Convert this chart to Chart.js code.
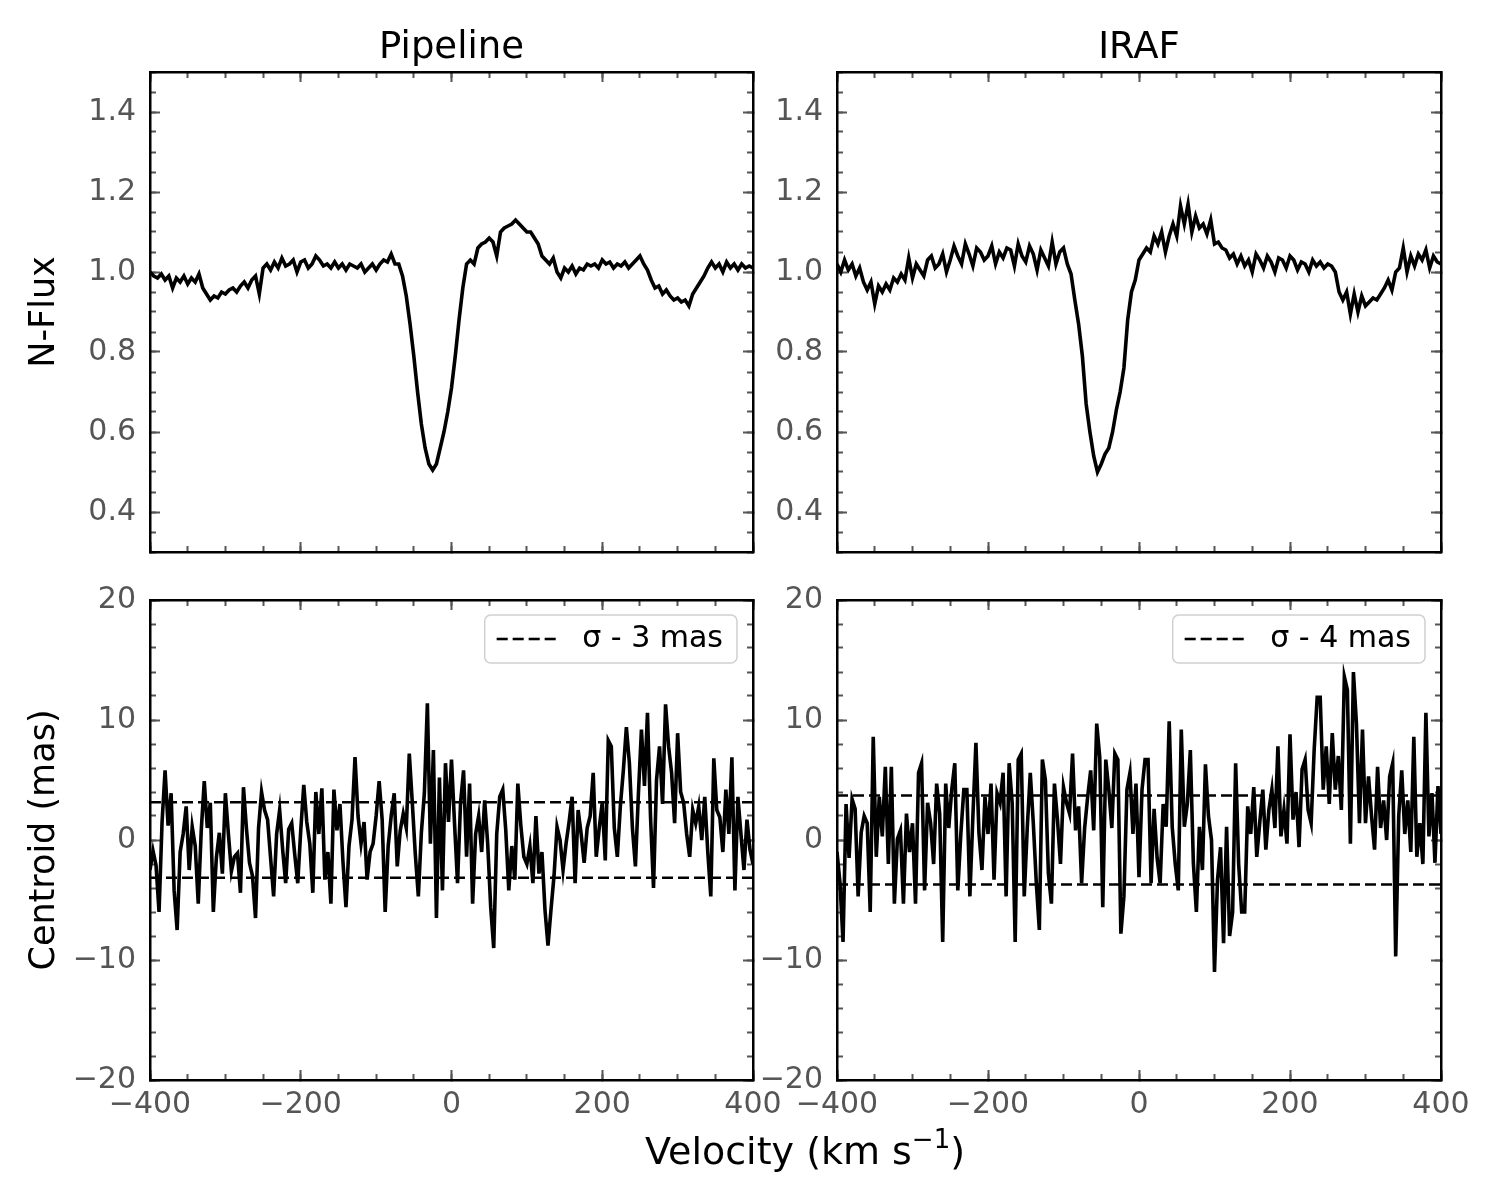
<!DOCTYPE html>
<html>
<head>
<meta charset="utf-8">
<script src="https://cdn.jsdelivr.net/npm/chart.js@4.4.1/dist/chart.umd.min.js"></script>
<style>
  body { margin: 0; background: #fff; }
  #page { position: relative; width: 1500px; height: 1200px; background: #fff; }
  canvas { position: absolute; }
  #xlabel {
    position: absolute; left: 505px; top: 1130px; width: 600px; text-align: center;
    font-family: 'DejaVu Sans', sans-serif; font-size: 38px; line-height: 42px; color: #000;
  }
  #xlabel sup { font-size: 26px; line-height: 0; vertical-align: 16px; }
</style>
</head>
<body>
<div id="page">
  <canvas id="fluxPipeline" width="800" height="560" style="left:0;top:0"></canvas>
  <canvas id="fluxIraf" width="801" height="560" style="left:687px;top:0"></canvas>
  <canvas id="centPipeline" width="800" height="550" style="left:0;top:580px"></canvas>
  <canvas id="centIraf" width="801" height="550" style="left:687px;top:580px"></canvas>
  <div id="xlabel">Velocity (km s<sup>−1</sup>)</div>
</div>
<script>
// samples start at -400 km/s
const fluxStep = 5;
const centStep = 4;

// normalised flux, Pipeline reduction (one row = 50 km/s)
const fluxPipeline = [
  1.00, 0.99, 0.985, 0.995, 0.98, 0.99, 0.96, 0.985, 0.975, 0.99,
  0.97, 0.985, 0.975, 0.995, 0.96, 0.945, 0.93, 0.94, 0.935, 0.95,
  0.945, 0.955, 0.96, 0.95, 0.965, 0.975, 0.96, 0.98, 0.99, 0.945,
  1.01, 1.02, 1.005, 1.025, 1.01, 1.035, 1.015, 1.02, 1.03, 1.0,
  1.025, 1.03, 1.01, 1.02, 1.04, 1.03, 1.015, 1.02, 1.01, 1.025,
  1.01, 1.02, 1.005, 1.02, 1.015, 1.01, 1.02, 1.0, 1.01, 1.02,
  1.005, 1.02, 1.03, 1.025, 1.045, 1.02, 1.02, 0.99, 0.94, 0.87,
  0.79, 0.70, 0.62, 0.56, 0.52, 0.505, 0.52, 0.56, 0.60, 0.65,
  0.71, 0.79, 0.88, 0.96, 1.02, 1.03, 1.02, 1.06, 1.07, 1.075,
  1.085, 1.075, 1.04, 1.10, 1.11, 1.115, 1.12, 1.13, 1.12, 1.11,
  1.10, 1.10, 1.085, 1.07, 1.04, 1.03, 1.02, 1.035, 1.0, 0.985,
  1.01, 1.0, 1.015, 0.995, 1.01, 1.005, 1.02, 1.015, 1.02, 1.01,
  1.03, 1.02, 1.025, 1.01, 1.02, 1.015, 1.025, 1.01, 1.02, 1.03,
  1.04, 1.02, 1.005, 0.98, 0.96, 0.965, 0.945, 0.955, 0.94, 0.93,
  0.935, 0.925, 0.93, 0.915, 0.945, 0.96, 0.975, 0.99, 1.01, 1.025,
  1.01, 1.02, 1.0, 1.025, 1.01, 1.02, 1.005, 1.02, 1.01, 1.015,
  1.01
];

// normalised flux, IRAF reduction
const fluxIraf = [
  1.02, 1.0, 1.03, 1.005, 1.02, 0.99, 1.01, 0.975, 0.955, 0.975,
  0.92, 0.965, 0.95, 0.97, 0.955, 0.985, 0.975, 0.995, 0.98, 1.035,
  0.985, 1.02, 1.005, 0.99, 1.03, 1.04, 1.01, 1.02, 1.045, 1.0,
  1.03, 1.065, 1.04, 1.02, 1.07, 1.045, 1.015, 1.06, 1.05, 1.03,
  1.04, 1.065, 1.02, 1.05, 1.035, 1.06, 1.055, 1.015, 1.07, 1.04,
  1.025, 1.065, 1.045, 1.005, 1.055, 1.035, 1.015, 1.075, 1.02, 1.05,
  1.06, 1.02, 0.995, 0.93, 0.87, 0.79, 0.67, 0.60, 0.54, 0.50,
  0.52, 0.545, 0.56, 0.60, 0.655, 0.70, 0.76, 0.88, 0.95, 0.98,
  1.03, 1.045, 1.06, 1.05, 1.09, 1.07, 1.10, 1.05, 1.09, 1.12,
  1.09, 1.165, 1.12, 1.17, 1.10, 1.14, 1.11, 1.12, 1.095, 1.13,
  1.07, 1.075, 1.06, 1.055, 1.035, 1.045, 1.02, 1.04, 1.015, 1.03,
  1.0, 1.045, 1.03, 1.01, 1.04, 1.025, 1.0, 1.035, 1.03, 1.01,
  1.04, 1.03, 1.005, 1.025, 1.02, 1.0, 1.03, 1.015, 1.025, 1.01,
  1.02, 1.015, 1.0, 0.95, 0.93, 0.95, 0.895, 0.945, 0.90, 0.94,
  0.915, 0.925, 0.935, 0.93, 0.945, 0.96, 0.98, 0.955, 1.0, 1.01,
  1.06, 1.0, 1.04, 1.015, 1.045, 1.03, 1.055, 1.01, 1.04, 1.025,
  1.02
];

// centroid offsets in mas, Pipeline (one row = 40 km/s)
const centPipeline = [
  -2.5, -0.9, -2.1, -6.0, 1.5, 5.8, 1.2, 3.9, -4.2, -7.5,
  -1.0, 0.5, 2.8, -2.5, 1.1, -0.5, -5.3, 0.8, 4.9, 1.0,
  3.1, -6.0, -1.5, 0.6, -2.8, 3.9, 0.5, -2.6, -1.4, -1.1,
  -4.4, 4.4, 0.9, -1.9, -3.0, -6.5, 1.0, 4.0, 2.5, 1.7,
  -1.5, -4.7, 0.5, 2.5, -0.8, -3.6, 0.9, 1.4, -1.2, -3.6,
  0.8, 4.6, 1.5, -0.3, -4.4, 4.0, 0.5, 4.3, -3.3, -1.0,
  -5.3, 4.2, 0.8, 3.0, -1.8, -5.6, -0.5, 1.7, 6.9, 2.0,
  -0.3, 1.5, -3.3, -1.0, -0.3, 2.0, 4.9, 1.7, -6.0, -0.5,
  2.0, 3.9, -2.2, 0.8, 2.2, 1.0, 7.2, 3.1, -1.2, -4.7,
  0.6, 3.9, 11.4, -0.3, 7.5, -6.5, 5.2, -4.2, 6.4, 1.5,
  6.7, 1.4, -3.6, 3.1, 5.8, -1.4, 4.7, -5.3, 0.5, 2.0,
  -1.0, 3.3, -0.3, -5.6, -9.0, 0.5, 3.6, 4.2, 0.8, -4.2,
  -0.5, -3.3, 4.7, 1.2, -1.4, -2.0, -0.5, -3.6, 2.0, -2.8,
  -1.0, -5.8, -8.8, -5.8, -3.0, 1.1, 0.0, -2.5, -0.3, 1.5,
  3.6, -3.6, 2.5, 0.5, -1.9, 1.0, 2.0, 5.6, -1.4, 1.0,
  3.1, -1.7, 8.3, 7.8, 1.0, -1.4, 2.8, 5.8, 9.4, 6.4,
  1.0, -2.2, 3.9, 9.2, 4.5, 10.6, 2.0, -4.0, 5.0, 7.8,
  3.0, 11.3, 7.8, 5.6, 1.4, 8.9, 4.0, 3.1, 0.5, -1.4,
  2.5, 1.4, 2.8, 0.0, 3.6, -1.0, -4.7, 6.8, 2.5, 1.9,
  -1.0, 4.2, 0.5, 6.9, -4.2, 3.6, 0.5, -2.5, 1.7, -0.8,
  -2.0
];

// centroid offsets in mas, IRAF
const centIraf = [
  -1.0, -3.6, -8.5, 3.0, -1.5, 3.4, 2.6, -4.7, 0.6, 2.0,
  1.4, -6.0, 8.6, -1.4, 3.6, 0.3, 6.1, -2.0, 6.1, -5.3,
  0.1, 0.8, -5.3, 2.2, -1.0, 1.4, -5.3, 5.6, 6.4, -4.2,
  3.1, 1.4, -2.0, 4.7, 2.2, -8.5, 4.7, 1.0, 4.2, 6.4,
  -4.2, 0.5, 4.2, 4.2, -4.7, 2.0, 8.1, 0.6, -2.5, 3.6,
  0.5, 4.7, -3.3, 3.9, 3.1, 5.6, -4.7, 6.4, 3.1, -8.5,
  6.7, 7.2, -4.7, 1.0, 5.6, 1.4, -3.6, -7.5, 6.7, 5.0,
  -2.8, -5.3, 4.7, 1.7, -2.0, 4.4, 3.1, 2.2, 7.2, 0.8,
  2.8, -3.6, 1.0, 3.6, 5.8, 0.8, 9.7, 6.9, -5.6, 6.7,
  4.2, 1.0, 7.2, 6.7, -7.8, -4.7, 4.2, 5.6, 0.5, 4.7,
  -3.1, 4.2, 6.7, 6.7, -3.6, 2.6, -1.5, -3.6, 3.0, 1.1,
  9.9, 1.1, -2.0, -4.2, 9.2, 1.1, 3.0, 7.5, -1.9, -6.0,
  1.1, -2.5, 6.3, 2.0, 0.0, -11.0, -3.3, -0.6, -8.6, 1.1,
  -8.0, -6.0, 6.4, -2.0, -6.0, -6.0, 2.8, 0.5, 4.4, -1.4,
  1.5, 4.2, -0.8, 2.5, 4.2, 1.0, 7.8, 0.3, 2.5, -0.3,
  8.8, 1.7, 4.0, -0.6, 5.9, 6.7, 2.5, 1.4, 7.5, 11.9,
  11.9, 4.2, 7.8, 3.0, 8.9, 4.2, 7.0, 2.5, 13.6, 12.5,
  -0.3, 14.0, 9.7, 1.4, 9.2, 1.4, 5.3, 2.0, -0.8, 6.1,
  1.0, 3.3, 0.0, 5.3, 6.4, -9.7, 2.0, 5.8, 0.5, 3.3,
  -1.0, 8.6, -1.4, 1.4, -2.0, 10.6, 0.3, 3.9, -1.9, 4.5,
  0.5
];

// +/- sigma levels (mas)
const sigmaPipeline = 3.15;
const sigmaIraf = 3.7;

const velTicks = [-400, -200, 0, 200, 400];
const velMinorTicks = [-400, -350, -300, -250, -200, -150, -100, -50, 0, 50, 100, 150, 200, 250, 300, 350, 400];
const fluxTicks = [0.4, 0.6, 0.8, 1.0, 1.2, 1.4];
const fluxMinorTicks = [0.3, 0.35, 0.4, 0.45, 0.5, 0.55, 0.6, 0.65, 0.7, 0.75, 0.8, 0.85, 0.9, 0.95,
  1.0, 1.05, 1.1, 1.15, 1.2, 1.25, 1.3, 1.35, 1.4, 1.45, 1.5];
const centTicks = [-20, -10, 0, 10, 20];
const centMinorTicks = [-20, -18, -16, -14, -12, -10, -8, -6, -4, -2, 0, 2, 4, 6, 8, 10, 12, 14, 16, 18, 20];

Chart.defaults.font.family = "'DejaVu Sans', sans-serif";
const tickGray = '#555';

const minus = (v) => String(v).replace('-', '\u2212');
const toPoints = (vals, step) => vals.map((v, i) => ({ x: -400 + i * step, y: v }));

// legend sits top right inside the plot, with a white rounded frame drawn over the data
const legendFrame = {
  id: 'legendFrame',
  afterLayout(chart) {
    const lg = chart.legend;
    if (!lg || !lg.options.display || !lg.columnSizes || !lg.columnSizes.length) return;
    const ca = chart.chartArea;
    const pad = lg.options.labels.padding;
    lg.left = ca.right - 30 - lg.columnSizes[0].width - pad;
    lg.right = ca.right;
    lg.top = ca.top + 24 - pad;
    lg.bottom = ca.bottom;
  },
  afterDatasetsDraw(chart) {
    const lg = chart.legend;
    if (!lg || !lg.options.display || !lg.legendHitBoxes || !lg.legendHitBoxes.length) return;
    const hb = lg.legendHitBoxes[0];
    const ctx = chart.ctx;
    const x = hb.left - 12, y = hb.top - 9, w = hb.width + 26, h = hb.height + 18;
    ctx.save();
    ctx.beginPath();
    ctx.roundRect(x, y, w, h, 6);
    ctx.fillStyle = 'rgba(255,255,255,0.8)';
    ctx.fill();
    ctx.lineWidth = 1.5;
    ctx.strokeStyle = '#d0d0d0';
    ctx.stroke();
    ctx.restore();
    lg.draw();
  }
};

function buildScales(o) {
  const fix = (arr) => (s) => { s.ticks = arr.map((v) => ({ value: v })); };
  const fitH = (h) => (s) => { s.height = h; s.paddingLeft = 0; s.paddingRight = 0; };
  const fitW = (w) => (s) => { s.width = w; s.paddingTop = 0; s.paddingBottom = 0; };
  const tick = (len) => ({ drawOnChartArea: false, tickLength: -len, tickWidth: 2, tickColor: tickGray });
  const edge = { display: true, color: '#000', width: 2.5 };
  const none = { display: false };
  const labelFont = { size: 30 };
  return {
    x: {
      type: 'linear', position: 'bottom', min: -400, max: 400, weight: 1,
      afterBuildTicks: fix(velTicks), afterFit: fitH(o.bottomH),
      ticks: o.showX
        ? { display: true, autoSkip: false, maxRotation: 0, padding: 17, color: tickGray, font: labelFont, callback: (v) => minus(v) }
        : none,
      grid: tick(10), border: edge
    },
    xMinor: {
      type: 'linear', position: 'bottom', min: -400, max: 400, weight: 0,
      afterBuildTicks: fix(velMinorTicks), afterFit: fitH(0),
      ticks: none, grid: tick(6), border: none
    },
    xTop: {
      type: 'linear', position: 'top', min: -400, max: 400, weight: 1,
      afterBuildTicks: fix(velTicks), afterFit: fitH(o.topH),
      ticks: none, grid: tick(10), border: edge,
      title: o.topTitle
        ? { display: true, text: o.topTitle, color: '#000', font: { size: 37 }, padding: { top: 26, bottom: 0 } }
        : none
    },
    xTopMinor: {
      type: 'linear', position: 'top', min: -400, max: 400, weight: 0,
      afterBuildTicks: fix(velMinorTicks), afterFit: fitH(0),
      ticks: none, grid: tick(6), border: none
    },
    y: {
      type: 'linear', position: 'left', min: o.yMin, max: o.yMax, weight: 1,
      afterBuildTicks: fix(o.yTicks), afterFit: fitW(150),
      ticks: { autoSkip: false, padding: 24, color: tickGray, font: labelFont, callback: o.yFmt },
      grid: tick(10), border: edge,
      title: o.yTitle
        ? { display: true, text: o.yTitle, color: '#000', font: { size: 35 }, padding: { top: 24, bottom: 0 } }
        : none
    },
    yMinor: {
      type: 'linear', position: 'left', min: o.yMin, max: o.yMax, weight: 0,
      afterBuildTicks: fix(o.yMinor), afterFit: fitW(0),
      ticks: none, grid: tick(6), border: none
    },
    yRight: {
      type: 'linear', position: 'right', min: o.yMin, max: o.yMax, weight: 1,
      afterBuildTicks: fix(o.yTicks), afterFit: fitW(0),
      ticks: none, grid: tick(10), border: edge
    },
    yRightMinor: {
      type: 'linear', position: 'right', min: o.yMin, max: o.yMax, weight: 0,
      afterBuildTicks: fix(o.yMinor), afterFit: fitW(0),
      ticks: none, grid: tick(6), border: none
    }
  };
}

function spectrumSet(vals, step) {
  return {
    data: toPoints(vals, step), xAxisID: 'x', yAxisID: 'y',
    borderColor: '#000', borderWidth: 3.6, pointRadius: 0, tension: 0
  };
}

function sigmaSet(label, level) {
  return {
    label: label, data: [{ x: -400, y: level }, { x: 400, y: level }], xAxisID: 'x', yAxisID: 'y',
    borderColor: '#000', borderWidth: 2.5, borderDash: [11, 5], pointRadius: 0
  };
}

function makeChart(id, datasets, scales, padding, legend) {
  return new Chart(document.getElementById(id), {
    type: 'line',
    data: { datasets: datasets },
    options: {
      responsive: false, animation: false, events: [],
      layout: { padding: padding },
      scales: scales,
      plugins: { legend: legend, tooltip: { enabled: false } }
    },
    plugins: [legendFrame]
  });
}

const noLegend = { display: false };
function sigmaLegend() {
  return {
    display: true, position: 'chartArea', align: 'start',
    labels: {
      usePointStyle: true, pointStyle: 'line', pointStyleWidth: 61,
      color: '#000', font: { size: 30 }, padding: 24,
      generateLabels: (chart) => {
        const ds = chart.data.datasets[1];
        return [{
          text: ' ' + ds.label, datasetIndex: 1, hidden: false,
          fontColor: '#000', strokeStyle: '#000', fillStyle: '#000',
          lineWidth: ds.borderWidth, lineDash: ds.borderDash, pointStyle: 'line'
        }];
      }
    }
  };
}

const fluxFmt = (v) => v.toFixed(1);

makeChart('fluxPipeline', [spectrumSet(fluxPipeline, fluxStep)],
  buildScales({ yMin: 0.3, yMax: 1.5, yTicks: fluxTicks, yMinor: fluxMinorTicks, yFmt: fluxFmt,
    showX: false, yTitle: 'N-Flux', topTitle: 'Pipeline', topH: 72, bottomH: 0 }),
  { left: 0, top: 0, right: 47, bottom: 8 }, noLegend);

makeChart('fluxIraf', [spectrumSet(fluxIraf, fluxStep)],
  buildScales({ yMin: 0.3, yMax: 1.5, yTicks: fluxTicks, yMinor: fluxMinorTicks, yFmt: fluxFmt,
    showX: false, yTitle: null, topTitle: 'IRAF', topH: 72, bottomH: 0 }),
  { left: 0, top: 0, right: 47, bottom: 8 }, noLegend);

makeChart('centPipeline',
  [spectrumSet(centPipeline, centStep), sigmaSet('σ - 3 mas', sigmaPipeline), sigmaSet('', -sigmaPipeline)],
  buildScales({ yMin: -20, yMax: 20, yTicks: centTicks, yMinor: centMinorTicks, yFmt: (v) => minus(v),
    showX: true, yTitle: 'Centroid (mas)', topTitle: null, topH: 20, bottomH: 50 }),
  { left: 0, top: 0, right: 47, bottom: 0 }, sigmaLegend());

makeChart('centIraf',
  [spectrumSet(centIraf, centStep), sigmaSet('σ - 4 mas', sigmaIraf), sigmaSet('', -sigmaIraf)],
  buildScales({ yMin: -20, yMax: 20, yTicks: centTicks, yMinor: centMinorTicks, yFmt: (v) => minus(v),
    showX: true, yTitle: null, topTitle: null, topH: 20, bottomH: 50 }),
  { left: 0, top: 0, right: 47, bottom: 0 }, sigmaLegend());
</script>
</body>
</html>
